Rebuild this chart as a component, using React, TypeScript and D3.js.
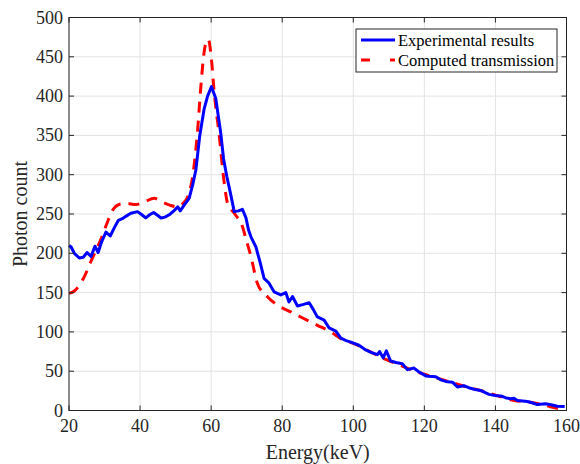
import React from "react";
import * as d3 from "d3";

const expEnergy = [20, 20.6, 21.5, 22.9, 24, 25.1, 26.2, 27.3, 28.2, 29.2, 30.4, 31.6, 32.8, 33.9, 35, 36, 37.4, 39.3, 40.5, 41.6, 42.7, 43.8, 45, 45.9, 47, 48.2, 49.5, 50.6, 51.3, 52.5, 53.8, 54.8, 55.7, 56.8, 58, 59, 60.1, 61.3, 62.7, 63.5, 64.4, 65.5, 66.5, 67.7, 68.8, 69.8, 70.5, 71.2, 72.6, 73.8, 74.9, 76.3, 77.7, 79.6, 81, 81.9, 82.9, 84.3, 86, 87.6, 88.8, 89.9, 91.8, 93.2, 95.1, 96.5, 98, 99.3, 101.6, 103.5, 105, 106.8, 107.4, 108.4, 109.3, 110.5, 112, 113.8, 115.2, 117.1, 118.5, 120.4, 121.3, 123.2, 124.6, 126, 127.9, 129.3, 131.1, 132.5, 134, 135.8, 137, 138.2, 140, 141.9, 143, 144.3, 145.2, 146.2, 149, 150.5, 151.8, 154.1, 156, 157.4, 159.5];
const expCount = [210, 208, 200, 194, 195, 201, 196, 209, 201, 215, 227, 222, 233, 242, 244, 247, 251, 253, 249, 245, 249, 252, 248, 245, 246, 249, 254, 259, 254, 262, 270, 287, 306, 350, 383, 400, 412, 397, 353, 320, 298, 275, 253, 254, 256, 245, 230, 221, 208, 188, 168, 162, 151, 147, 150, 138, 145, 133, 135, 137, 128, 119, 115, 105, 101, 92, 89, 87, 83, 77, 74, 71, 75, 67, 76, 63, 61, 59.5, 52, 54, 49, 44, 43.5, 43, 39, 37, 36, 30, 31.5, 29, 27, 25.5, 23, 20.5, 19, 18, 16, 15, 15.7, 12.8, 11.5, 9.5, 7.5, 8.5, 7, 5.5, 5];

const compEnergy = [20, 21.5, 23, 24.5, 26, 27.5, 29, 30.5, 32.3, 34, 36, 38.8, 41, 44, 46.3, 48.5, 50.6, 52, 53.4, 54.8, 56.2, 57.1, 58, 58.6, 59.2, 60.1, 60.8, 62.3, 63.7, 64.6, 66.5, 68.8, 70, 71.2, 73, 75.9, 78.7, 82.4, 85.2, 89.9, 93.7, 96.5, 100.2, 104, 108.6, 113.3, 118, 122.7, 127.4, 131.5, 135.8, 140.5, 145.2, 149.9, 154, 158.3, 159.5];
const compCount = [149, 152, 160, 172, 188, 203, 218, 236, 255, 262, 263.5, 262, 265, 270, 265, 261, 259, 263, 272, 298, 357, 412, 455, 469, 472, 446, 408, 349, 289, 264, 251, 234, 215, 196, 162, 144.5, 134, 125.5, 119, 108.4, 100, 91.4, 85, 76.5, 66, 57.4, 49, 42.5, 36, 30.5, 25.5, 19, 12.8, 10.6, 6.5, 2.1, 1.5];

const xTicks = [20, 40, 60, 80, 100, 120, 140, 160];
const yTicks = [0, 50, 100, 150, 200, 250, 300, 350, 400, 450, 500];
const seriesNames = ["Experimental results", "Computed transmission"];

const W = 580, H = 464;
const L = 69, R = 566.5, T = 17.5, B = 410.5;
const FONT = "'Liberation Serif', 'Times New Roman', serif";

export default function App() {
  const x = d3.scaleLinear().domain([20, 160]).range([L, R]);
  const y = d3.scaleLinear().domain([0, 500]).range([B, T]);
  const expData = expEnergy.map((e, i) => [e, expCount[i]] as [number, number]);
  const compData = compEnergy.map((e, i) => [e, compCount[i]] as [number, number]);
  const lineLin = d3.line<[number, number]>().x(d => x(d[0])).y(d => y(d[1]));
  const lineSmooth = d3.line<[number, number]>().x(d => x(d[0])).y(d => y(d[1])).curve(d3.curveMonotoneX);
  const axisColor = "#262626";
  const gridColor = "#e3e3e3";
  return (
    <svg width={W} height={H} style={{ position: "absolute", left: 0, top: 0, background: "#fff" }}>
      <rect x={0} y={0} width={W} height={H} fill="#fff" />
      {xTicks.map(t => (
        <line key={"gx" + t} x1={x(t)} x2={x(t)} y1={T} y2={B} stroke={gridColor} strokeWidth={1} />
      ))}
      {yTicks.map(t => (
        <line key={"gy" + t} x1={L} x2={R} y1={y(t)} y2={y(t)} stroke={gridColor} strokeWidth={1} />
      ))}
      <path d={lineSmooth(compData) || ""} fill="none" stroke="#ff0000" strokeWidth={3} strokeDasharray="11,8" />
      <path d={lineLin(expData) || ""} fill="none" stroke="#0000ff" strokeWidth={3} strokeLinejoin="round" />
      <rect x={L} y={T} width={R - L} height={B - T} fill="none" stroke={axisColor} strokeWidth={1} />
      {xTicks.map(t => (
        <g key={"tx" + t}>
          <line x1={x(t)} x2={x(t)} y1={B} y2={B - 5} stroke={axisColor} />
          <line x1={x(t)} x2={x(t)} y1={T} y2={T + 5} stroke={axisColor} />
          <text x={x(t)} y={B + 21} textAnchor="middle" fontFamily={FONT} fontSize={18} fill={axisColor}>{t}</text>
        </g>
      ))}
      {yTicks.map(t => (
        <g key={"ty" + t}>
          <line x1={L} x2={L + 5} y1={y(t)} y2={y(t)} stroke={axisColor} />
          <line x1={R} x2={R - 5} y1={y(t)} y2={y(t)} stroke={axisColor} />
          <text x={L - 6} y={y(t) + 6} textAnchor="end" fontFamily={FONT} fontSize={18} fill={axisColor}>{t}</text>
        </g>
      ))}
      <text x={(L + R) / 2} y={459} textAnchor="middle" fontFamily={FONT} fontSize={20} fill={axisColor}>Energy(keV)</text>
      <text transform={`translate(27,${(T + B) / 2}) rotate(-90)`} textAnchor="middle" fontFamily={FONT} fontSize={20} fill={axisColor}>Photon count</text>
      <g>
        <rect x={356} y={29} width={201} height={43} fill="#fff" stroke={axisColor} strokeWidth={1} />
        <line x1={361} x2={395} y1={40} y2={40} stroke="#0000ff" strokeWidth={3} />
        <line x1={361} x2={395} y1={60} y2={60} stroke="#ff0000" strokeWidth={3} strokeDasharray="9,20" />
        <text x={398} y={45.5} fontFamily={FONT} fontSize={16.5} fill="#000">{seriesNames[0]}</text>
        <text x={398} y={65.5} fontFamily={FONT} fontSize={16.5} fill="#000">{seriesNames[1]}</text>
      </g>
    </svg>
  );
}
